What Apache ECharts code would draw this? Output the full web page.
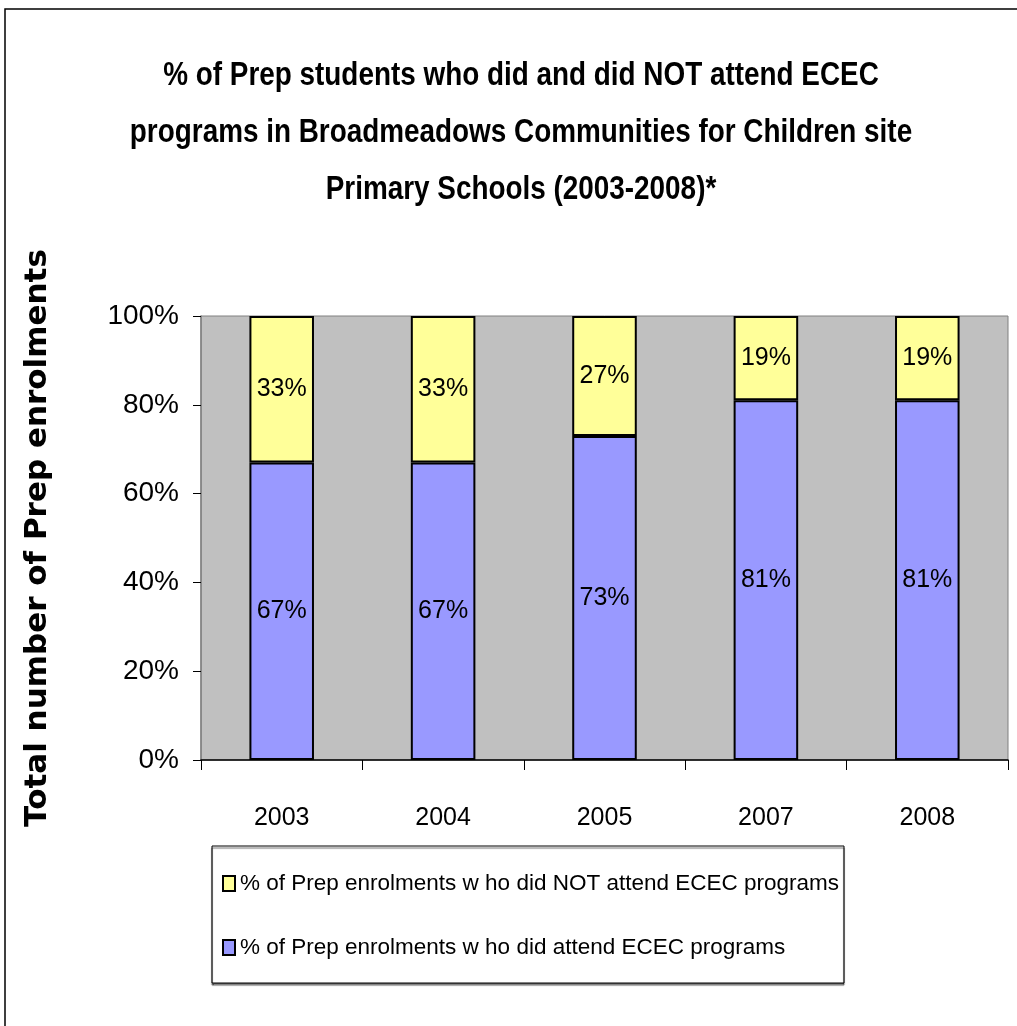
<!DOCTYPE html>
<html>
<head>
  <meta charset="utf-8">
  <title>Prep students ECEC attendance</title>
  <style>
    html, body { margin: 0; padding: 0; background: #fff; }
    #main { width: 1017px; height: 1026px; }
  </style>
</head>
<body>
<div id="main"></div>
<script src="https://cdn.jsdelivr.net/npm/echarts@6/dist/echarts.min.js"></script>
<script>
  // data
  var years = ['2003', '2004', '2005', '2007', '2008'];
  var attended = [67, 67, 73, 81, 81];
  var notAttended = [33, 33, 27, 19, 19];
  var yTicks = [0, 20, 40, 60, 80, 100];

  var nameAttend = '% of Prep enrolments w ho did attend ECEC programs';
  var nameNot = '% of Prep enrolments w ho did NOT attend ECEC programs';
  var titleText = '% of Prep students who did and did NOT attend ECEC\nprograms in Broadmeadows Communities for Children site\nPrimary Schools (2003-2008)*';

  var sans = '"Liberation Sans", Arial, sans-serif';

  var myChart = echarts.init(document.getElementById('main'));

  var labelStyle = {
    show: true,
    position: 'inside',
    formatter: '{c}%',
    color: '#000',
    fontFamily: sans,
    fontSize: 25
  };

  myChart.setOption({
    animation: false,
    backgroundColor: '#fff',
    legend: {
      orient: 'vertical',
      left: 212,
      top: 846,
      data: [nameNot, nameAttend],
      icon: 'rect',
      itemWidth: 12,
      itemHeight: 15,
      itemGap: 41,
      padding: [26, 5, 24, 10],
      backgroundColor: '#fff',
      borderColor: '#000',
      borderWidth: 1,
      shadowColor: 'rgba(0,0,0,0.6)',
      shadowOffsetY: 2,
      shadowBlur: 1,
      textStyle: {
        fontFamily: sans,
        fontSize: 22.5,
        color: '#000'
      }
    },
    grid: {
      left: 201,
      right: 9,
      top: 316,
      bottom: 266,
      show: true,
      backgroundColor: '#C0C0C0',
      borderColor: '#808080',
      borderWidth: 1
    },
    xAxis: {
      type: 'category',
      data: years,
      axisLine: { lineStyle: { color: '#000', width: 1.5 } },
      axisTick: { show: true, length: 10, lineStyle: { color: '#000' } },
      axisLabel: {
        margin: 46,
        fontFamily: sans,
        fontSize: 25,
        color: '#000'
      }
    },
    yAxis: {
      type: 'value',
      min: yTicks[0],
      max: yTicks[yTicks.length - 1],
      interval: 20,
      name: 'Total number of Prep enrolments',
      nameLocation: 'middle',
      nameRotate: 90,
      nameGap: 148,
      nameTextStyle: {
        fontFamily: '"DejaVu Sans", sans-serif',
        fontWeight: 'bold',
        fontSize: 31,
        color: '#000'
      },
      axisLine: { show: true, lineStyle: { color: '#808080', width: 1.5 } },
      axisTick: { show: true, length: 8, lineStyle: { color: '#000' } },
      splitLine: { show: false },
      axisLabel: {
        formatter: '{value}%',
        margin: 22,
        fontFamily: sans,
        fontSize: 28,
        color: '#000'
      }
    },
    series: [
      {
        name: nameAttend,
        type: 'bar',
        stack: 'total',
        barWidth: '40%',
        data: attended,
        itemStyle: { color: '#9999FF', borderColor: '#000', borderWidth: 2 },
        label: labelStyle
      },
      {
        name: nameNot,
        type: 'bar',
        stack: 'total',
        barWidth: '40%',
        data: notAttended,
        itemStyle: { color: '#FFFF99', borderColor: '#000', borderWidth: 2 },
        label: labelStyle
      }
    ],
    graphic: [
      {
        type: 'rect',
        silent: true,
        shape: { x: 5, y: 9, width: 1100, height: 1100 },
        style: { fill: 'none', stroke: '#000', lineWidth: 1.5 }
      },
      {
        // chart title, squeezed sideways like the narrow font of the original
        type: 'text',
        x: 521,
        y: 47,
        scaleX: 0.82,
        style: {
          text: titleText,
          align: 'center',
          verticalAlign: 'top',
          lineHeight: 57,
          fontFamily: sans,
          fontWeight: 'bold',
          fontSize: 34,
          fill: '#000'
        }
      }
    ]
  });
</script>
</body>
</html>
